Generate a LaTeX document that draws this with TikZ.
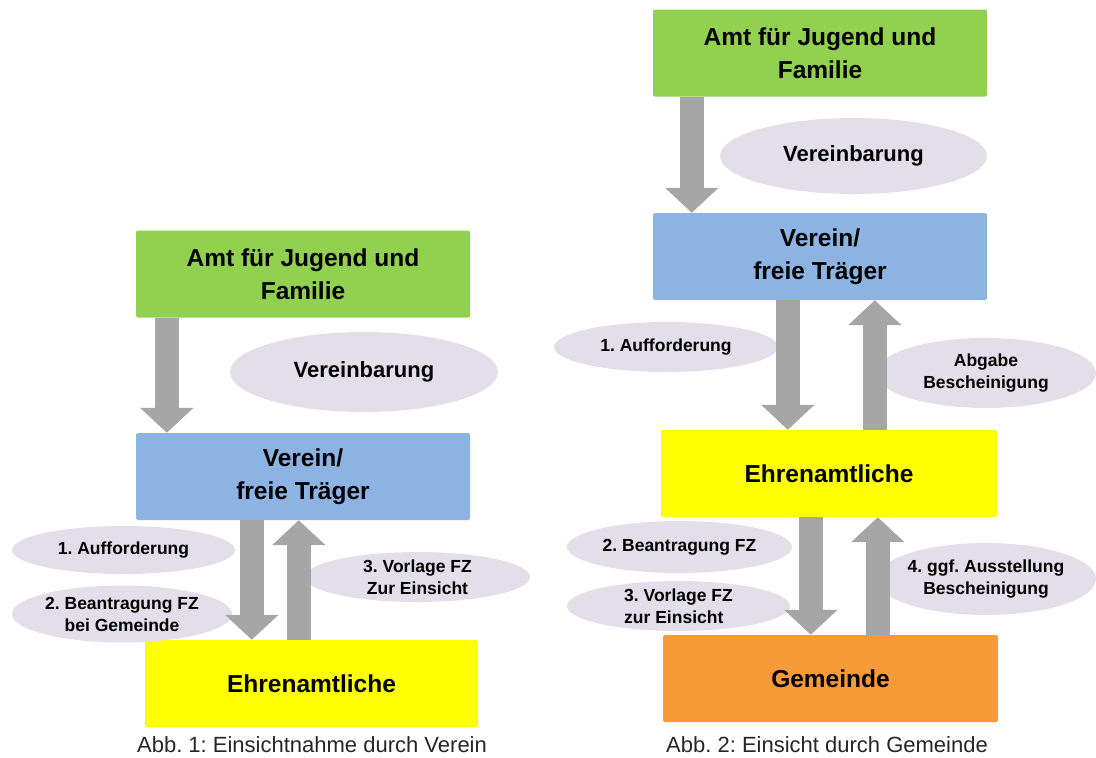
\documentclass[tikz,border=0pt]{standalone}
\usepackage{fontspec}
\setmainfont{Liberation Sans}
\usetikzlibrary{arrows.meta,shapes.geometric}
\definecolor{boxgreen}{HTML}{92D050}
\definecolor{boxblue}{HTML}{8DB3E2}
\definecolor{boxyellow}{HTML}{FFFF00}
\definecolor{boxorange}{HTML}{F99A38}
\definecolor{bubblegray}{HTML}{E2DFEB}
\definecolor{arrowgray}{HTML}{A6A6A6}
\definecolor{captiongray}{HTML}{262626}
\frenchspacing

\begin{document}
\begin{tikzpicture}[
		x=1pt, y=-1pt,
		box/.style={rectangle, rounded corners=2pt, minimum width=334pt, minimum height=87pt,
			inner sep=0pt, align=center, font=\bfseries\fontsize{24.5}{33}\selectfont},
		bubble/.style={ellipse, fill=bubblegray, inner xsep=-10pt, inner ysep=-8pt, align=center,
			font=\bfseries\fontsize{17.5}{22}\selectfont},
		agreement/.style={bubble, font=\bfseries\fontsize{22}{26}\selectfont},
		bigarrow/.style={line width=24pt, draw=arrowgray, -{Triangle[length=25pt, width=52pt]}},
		caption/.style={text=captiongray, font=\fontsize{22}{26}\selectfont}
	]
  \useasboundingbox (0, 0) rectangle (1096, 758);

  \node (amt_l) [box, fill=boxgreen] at (303, 274) {Amt für Jugend und\\Familie};
  \node (verein_l) [box, fill=boxblue] at (303, 476.5) {Verein/\\freie Träger};
  \node (ehren_l) [box, fill=boxyellow, minimum width=333pt] at (311.5, 683.5) {Ehrenamtliche};
  \node (vb_l) [agreement, minimum width=268pt, minimum height=80pt] at (364, 372) {Vereinbarung};
  \node (auf_l) [bubble, minimum width=223pt, minimum height=48pt] at (123.5, 550) {1. Aufforderung};
  \node (bea_l) [bubble, minimum width=220pt, minimum height=57pt] at (122, 614) {2. Beantragung FZ\\bei Gemeinde};
  \node (vor_l) [bubble, minimum width=225pt, minimum height=50pt] at (417.5, 577) {3. Vorlage FZ\\Zur Einsicht};
  \node (cap_l) [caption] at (312, 745) {Abb. 1: Einsichtnahme durch Verein};
  \draw [bigarrow] ([xshift=31pt]amt_l.south west) -- ([xshift=31pt]verein_l.north west);
  \draw [bigarrow] ([xshift=116pt]verein_l.south west) -- ([xshift=116pt]verein_l.south west |- ehren_l.north);
  \draw [bigarrow] ([xshift=163pt]verein_l.south west |- ehren_l.north) -- ([xshift=163pt]verein_l.south west);

  \node (amt_r) [box, fill=boxgreen] at (820, 53) {Amt für Jugend und\\Familie};
  \node (verein_r) [box, fill=boxblue] at (820, 256.5) {Verein/\\freie Träger};
  \node (ehren_r) [box, fill=boxyellow, minimum width=336pt] at (829, 473.5) {Ehrenamtliche};
  \node (gem_r) [box, fill=boxorange, minimum width=335pt] at (830.5, 678.5) {Gemeinde};
  \node (vb_r) [agreement, minimum width=267pt, minimum height=76pt] at (853.5, 156) {Vereinbarung};
  \node (auf_r) [bubble, minimum width=224pt, minimum height=50pt] at (666, 347) {1. Aufforderung};
  \node (abg_r) [bubble, minimum width=220pt, minimum height=70pt] at (986, 373) {Abgabe\\Bescheinigung};
  \node (bea_r) [bubble, minimum width=225pt, minimum height=52pt] at (679.5, 547) {2. Beantragung FZ};
  \node (vor_r) [bubble, minimum width=223pt, minimum height=50pt, align=left] at (678.5, 606) {3. Vorlage FZ\\zur Einsicht};
  \node (aus_r) [bubble, minimum width=220pt, minimum height=72pt] at (986, 579) {4. ggf. Ausstellung\\Bescheinigung};
  \node (cap_r) [caption] at (827, 745) {Abb. 2: Einsicht durch Gemeinde};
  \draw [bigarrow] ([xshift=39pt]amt_r.south west) -- ([xshift=39pt]verein_r.north west);
  \draw [bigarrow] ([xshift=135pt]verein_r.south west) -- ([xshift=135pt]verein_r.south west |- ehren_r.north);
  \draw [bigarrow] ([xshift=222pt]verein_r.south west |- ehren_r.north) -- ([xshift=222pt]verein_r.south west);
  \draw [bigarrow] ([xshift=150pt]ehren_r.south west) -- ([xshift=150pt]ehren_r.south west |- gem_r.north);
  \draw [bigarrow] ([xshift=217pt]ehren_r.south west |- gem_r.north) -- ([xshift=217pt]ehren_r.south west);
\end{tikzpicture}
\end{document}
